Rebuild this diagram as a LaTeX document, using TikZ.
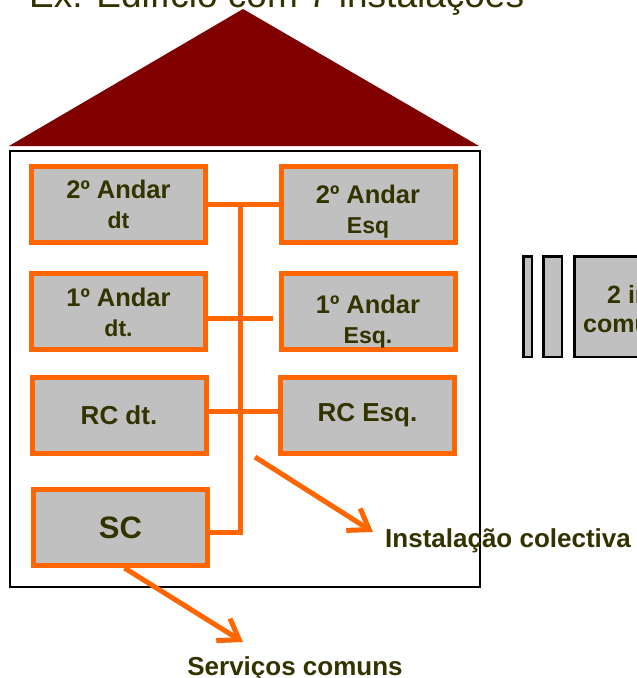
\documentclass[tikz,border=0pt]{standalone}
\usepackage{fontspec}
\setmainfont{Liberation Sans}
\usetikzlibrary{arrows.meta,calc}
\definecolor{txtol}{HTML}{333300}
\definecolor{orng}{HTML}{FF6600}
\definecolor{boxgray}{HTML}{C0C0C0}
\definecolor{roofred}{HTML}{800000}
\begin{document}
\begin{tikzpicture}[x=1pt,y=-1pt,
  box/.style={draw=orng, fill=boxgray, line width=5pt, minimum width=174pt, minimum height=76pt,
    inner sep=0pt, text=txtol, align=center, font=\bfseries\fontsize{25.5}{30}\selectfont},
  conn/.style={draw=orng, line width=5pt},
  arr/.style={draw=orng, line width=5pt, -{Straight Barb[length=19pt,width=26pt]}},
  lbl/.style={text=txtol, inner sep=0pt, font=\bfseries\fontsize{26}{30}\selectfont},
  sidebox/.style={draw=black, fill=boxgray, line width=2.5pt, inner sep=0pt, minimum height=100.5pt}
]
\useasboundingbox (0,0) rectangle (637,678);
\fill[white] (0,0) rectangle (637,678);
% title
\node[anchor=base west, inner sep=0pt, text=txtol, font=\fontsize{37}{40}\selectfont] (title) at (29,7) {Ex: Edifício com 7 instalações};
% roof and house
\fill[roofred] (9,146) -- (243,9) -- (479,146) -- cycle;
\draw[line width=2.5pt] (10,151) rectangle (480,587);
% boxes
\node[box] (A2dt)  at (118.5,204.5) {2º Andar\\{\fontsize{23}{30}\selectfont dt}};
\node[box] (A2esq) at (368,204.5) {\rule{0pt}{32.6pt}2º Andar\\{\fontsize{23}{30}\selectfont Esq}};
\node[box] (A1dt)  at (118.5,311.5) {\rule{0pt}{20.6pt}1º Andar\\{\fontsize{23}{30}\selectfont dt.}};
\node[box] (A1esq) at (368,311.5) {\rule{0pt}{38.6pt}1º Andar\\{\fontsize{23}{30}\selectfont Esq.}};
\node[box, font=\bfseries\fontsize{26}{30}\selectfont] (RCdt)  at (119,415) {RC dt.};
\node[box, font=\bfseries\fontsize{26}{30}\selectfont] (RCesq) at (367.5,415) {RC Esq.};
\node[box, font=\bfseries\fontsize{31}{34}\selectfont] (SC) at (120.5,527.5) {SC};
% trunk connectors
\coordinate (J2) at (240,204);
\coordinate (J1) at (240,318);
\coordinate (J0) at (240,411);
\coordinate (JS) at (240,532);
\draw[conn] (A2dt.east |- J2) -- (A2esq.west |- J2);
\draw[conn] (A1dt.east |- J1) -- ($(A1esq.west |- J1)+(-6,0)$);
\draw[conn] (RCdt.east |- J0) -- (RCesq.west |- J0);
\draw[conn] (J2) -- (JS) -- (SC.east |- JS);
% arrows and labels
\coordinate (a1s) at (255,457);
\coordinate (a1e) at (373,532);
\draw[arr] (a1s) -- (a1e);
\node[lbl, anchor=base west] (ic) at (385,547) {Instalação colectiva};
\coordinate (a2e) at (243,642);
\draw[arr] ($(SC.south)+(4,0)$) -- (a2e);
\node[lbl, anchor=base] (serv) at (295,675) {Serviços comuns};
% right side
\node[sidebox, minimum width=8.5pt] (r1) at (527.5,306.5) {};
\node[sidebox, minimum width=18.5pt] (r2) at (552.5,306.5) {};
\node[sidebox, minimum width=184.5pt] (r3) at (666.5,306.5) {};
\node[lbl, anchor=base west, font=\bfseries\fontsize{25}{30}\selectfont] (t3a) at (607,303) {2 instalações};
\node[lbl, anchor=base west, font=\bfseries\fontsize{25}{30}\selectfont] (t3b) at (583,332) {comuns};
\end{tikzpicture}
\end{document}
